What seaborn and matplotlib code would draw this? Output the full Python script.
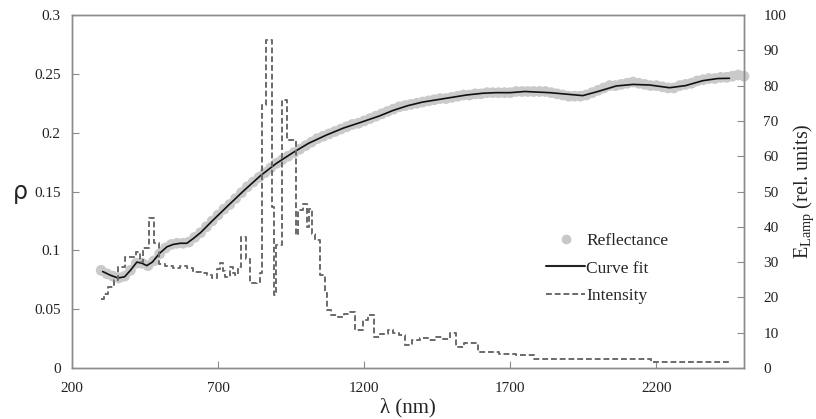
import numpy as np
import pandas as pd
import matplotlib
matplotlib.use("Agg")
import matplotlib.pyplot as plt
import seaborn as sns
from matplotlib.lines import Line2D

# ---------------- data ----------------
refl_nm = list(range(300, 2501, 20))
refl_rho = [0.083, 0.080, 0.078, 0.0765, 0.078, 0.083, 0.089, 0.089, 0.087, 0.091,
            0.097, 0.102, 0.105, 0.106, 0.106, 0.107, 0.111, 0.115, 0.120, 0.125,
            0.130, 0.135, 0.139, 0.144, 0.149, 0.154, 0.158, 0.162, 0.166, 0.170,
            0.174, 0.177, 0.180, 0.183, 0.186, 0.189, 0.192, 0.195, 0.197, 0.199,
            0.201, 0.203, 0.205, 0.207, 0.208, 0.210, 0.212, 0.214, 0.216, 0.218,
            0.220, 0.222, 0.223, 0.224, 0.225, 0.226, 0.227, 0.228, 0.229, 0.229,
            0.230, 0.231, 0.232, 0.232, 0.233, 0.233, 0.234, 0.234, 0.234, 0.234,
            0.234, 0.235, 0.235, 0.235, 0.235, 0.235, 0.235, 0.234, 0.233, 0.232,
            0.231, 0.231, 0.231, 0.232, 0.234, 0.236, 0.238, 0.240, 0.240, 0.241,
            0.242, 0.243, 0.242, 0.241, 0.240, 0.240, 0.239, 0.238, 0.238, 0.240,
            0.241, 0.242, 0.244, 0.245, 0.246, 0.246, 0.247, 0.247, 0.248, 0.249,
            0.248]

curve_nm = [305, 330, 357, 380, 400, 422, 440, 456, 475, 500, 525, 546, 570, 593,
            615, 640, 680, 730, 785, 843, 900, 956, 1010, 1071, 1130, 1185, 1250,
            1300, 1350, 1400, 1450, 1500, 1550, 1606, 1650, 1700, 1750, 1835, 1880,
            1948, 2000, 2063, 2120, 2177, 2245, 2300, 2359, 2410, 2450]
curve_rho = [0.082, 0.079, 0.0765, 0.0775, 0.083, 0.090, 0.089, 0.087, 0.090, 0.0975,
             0.103, 0.105, 0.106, 0.106, 0.110, 0.115, 0.125, 0.137, 0.150, 0.163,
             0.174, 0.183, 0.191, 0.198, 0.204, 0.2085, 0.214, 0.219, 0.223, 0.226,
             0.228, 0.230, 0.232, 0.2335, 0.234, 0.234, 0.235, 0.234, 0.233, 0.2315,
             0.235, 0.2397, 0.241, 0.2405, 0.2382, 0.240, 0.2442, 0.246, 0.2462]

int_nm = [300, 310, 325, 345, 358, 380, 420, 432, 443, 462, 482, 497, 520, 545, 570,
          595, 614, 640, 661, 679, 695, 706, 716, 725, 740, 750, 757, 768, 779, 797,
          810, 833, 843, 851, 864, 883, 893, 897, 920, 937, 965, 972, 990, 1005, 1012,
          1022, 1033, 1050, 1065, 1073, 1085, 1110, 1130, 1150, 1168, 1195, 1212, 1232,
          1255, 1280, 1300, 1320, 1340, 1365, 1390, 1420, 1445, 1470, 1495, 1515, 1540,
          1590, 1660, 1720, 1780, 2180, 2450]
int_val = [19.5, 21, 23, 25, 28.5, 31.5, 33, 30, 34, 42.5, 35.5, 29.5, 28.8, 28.3, 28.8,
           28.3, 27.2, 26.8, 26.3, 25.5, 28.0, 29.7, 27.5, 25.8, 28.6, 27.0, 26.3, 28.6,
           37.2, 31.0, 24.0, 24.4, 26.9, 74.5, 93.0, 45.6, 20.7, 34.8, 76.0, 64.6, 37.7,
           44.8, 46.5, 40.0, 45.0, 38.0, 36.3, 26.3, 21.2, 16.5, 15.0, 14.5, 15.2, 15.9,
           10.8, 13.6, 15.0, 8.8, 9.5, 10.8, 9.8, 9.3, 6.5, 8.0, 8.5, 8.0, 8.8, 8.3, 9.9,
           6.0, 7.0, 4.5, 4.0, 3.7, 2.5, 1.8, 1.8]

x_ticks = [200, 700, 1200, 1700, 2200]
y_ticks = [0, 0.05, 0.1, 0.15, 0.2, 0.25, 0.3]
y_tick_labels = ["0", "0.05", "0.1", "0.15", "0.2", "0.25", "0.3"]
y2_ticks = list(range(0, 101, 10))

# ---------------- style ----------------
sns.set_theme(style="white")
plt.rcParams["font.family"] = ["Liberation Serif", "DejaVu Serif"]
plt.rcParams["mathtext.fontset"] = "custom"
plt.rcParams["mathtext.rm"] = "Liberation Serif"
plt.rcParams["mathtext.it"] = "Liberation Serif:italic"

refl_df = pd.DataFrame({"nm": refl_nm, "rho": refl_rho})
curve_df = pd.DataFrame({"nm": curve_nm, "rho": curve_rho})
int_df = pd.DataFrame({"nm": int_nm, "val": int_val})

fig = plt.figure(figsize=(8.16, 4.19), dpi=100)
ax = fig.add_axes([0.0882, 0.1217, 0.8236, 0.8425])
ax2 = ax.twinx()

sns.scatterplot(data=refl_df, x="nm", y="rho", ax=ax, color="#cacaca", s=60,
                edgecolor="none", zorder=2, legend=False, clip_on=False)
sns.lineplot(data=curve_df, x="nm", y="rho", ax=ax, color="#111111", lw=1.2,
             sort=False, zorder=3, legend=False)
sns.lineplot(data=int_df, x="nm", y="val", ax=ax2, color="#6a6a6a", lw=1.4,
             drawstyle="steps-post", linestyle=(0, (3.0, 1.5)), sort=False, legend=False)

ax.set_xlim(200, 2500)
ax.set_ylim(0, 0.3)
ax2.set_ylim(0, 100)
ax.set_xticks(x_ticks)
ax.set_xticklabels([str(t) for t in x_ticks])
ax.set_yticks(y_ticks)
ax.set_yticklabels(y_tick_labels)
ax2.set_yticks(y2_ticks)

for a in (ax, ax2):
    for sp in a.spines.values():
        sp.set_color("#8c8c8c")
        sp.set_linewidth(1.0)
ax.tick_params(axis="both", direction="in", length=5, width=0.8, color="#8c8c8c",
               labelsize=11, labelcolor="#222222")
ax.tick_params(axis="x", pad=10)
ax.tick_params(axis="y", pad=8)
ax2.tick_params(axis="y", direction="in", length=5, width=0.8, color="#8c8c8c",
                labelsize=11, labelcolor="#222222", pad=14)
ax.tick_params(left=True, bottom=True)
ax2.tick_params(right=True)

ax.set_xlabel("λ (nm)", fontsize=15, labelpad=2)
ax.set_ylabel("ρ", fontsize=17, rotation=0, family=["DejaVu Sans"], labelpad=10, va="center")
ax2.set_ylabel(r"E$_{\mathrm{Lamp}}$ (rel. units)", fontsize=14.5, labelpad=4)

handles = [
    Line2D([], [], marker="o", linestyle="none", color="#c8c8c8", markersize=6),
    Line2D([], [], color="#222222", lw=1.5),
    Line2D([], [], color="#6a6a6a", lw=1.4, linestyle=(0, (3.0, 1.5))),
]
fig.legend(handles, ["Reflectance", "Curve fit", "Intensity"], loc="upper left",
           bbox_to_anchor=(0.659, 0.466), frameon=False, fontsize=12.5,
           handlelength=2.2, handletextpad=0.1, labelspacing=0.68, borderpad=0)

fig.savefig("out.png", dpi=100)
